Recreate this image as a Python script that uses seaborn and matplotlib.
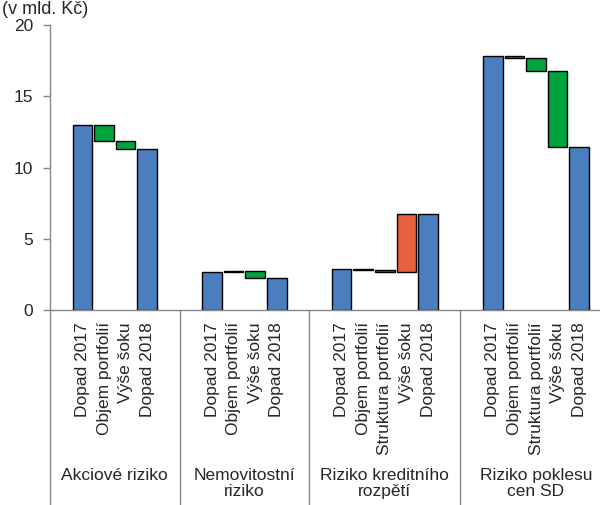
import matplotlib
matplotlib.use("Agg")
import matplotlib.pyplot as plt
import matplotlib.transforms as mtransforms
import numpy as np
import pandas as pd
import seaborn as sns

# --- data (bn CZK) -------------------------------------------------------
groups = ["Akciové riziko", "Nemovitostní\nriziko",
          "Riziko kreditního\nrozpětí", "Riziko poklesu\ncen SD"]

steps_equity = ["Dopad 2017", "Objem portfolií", "Výše šoku", "Dopad 2018"]
values_equity = [13.0, -1.15, -0.55, 11.3]

steps_property = ["Dopad 2017", "Objem portfolií", "Výše šoku", "Dopad 2018"]
values_property = [2.68, 0.08, -0.49, 2.27]

steps_credit = ["Dopad 2017", "Objem portfolií", "Struktura portfolií",
                "Výše šoku", "Dopad 2018"]
values_credit = [2.85, -0.02, -0.17, 4.08, 6.74]

steps_govbond = ["Dopad 2017", "Objem portfolií", "Struktura portfolií",
                 "Výše šoku", "Dopad 2018"]
values_govbond = [17.8, -0.15, -0.85, -5.35, 11.45]

BLUE = "#4A7EBF"
GREEN = "#00A33D"
ORANGE = "#E8603E"
AXIS_GREY = "#868686"
FS = 12.5

sns.set_style("white")
plt.rcParams["font.family"] = ["Liberation Sans", "DejaVu Sans"]

# --- build waterfall table: one empty slot on each side of every group ---
rows = []
group_spans = []
slot = 0
for g, steps, vals in zip(
        groups,
        [steps_equity, steps_property, steps_credit, steps_govbond],
        [values_equity, values_property, values_credit, values_govbond]):
    start = slot
    slot += 1  # leading empty slot
    level = 0.0
    last = len(vals) - 1
    for i, (s, v) in enumerate(zip(steps, vals)):
        if i == 0 or i == last:
            rows.append(dict(group=g, step=s, pos=slot, bottom=0.0,
                             height=v, kind="total"))
            level = v
        else:
            lo = min(level, level + v)
            rows.append(dict(group=g, step=s, pos=slot, bottom=lo,
                             height=abs(v),
                             kind="down" if v < 0 else "up"))
            level += v
        slot += 1
    slot += 1  # trailing empty slot
    group_spans.append((start - 0.5, slot - 0.5))

df = pd.DataFrame(rows)
totals = df[df["kind"] == "total"].copy()
deltas = df[df["kind"] != "total"]

fig = plt.figure(figsize=(6.0, 5.05), dpi=100)
ax = fig.add_axes([50 / 600, 1 - 310 / 505, 561.6 / 600, 285 / 505])

# start/end totals
native_gap = np.diff(np.sort(totals["pos"].unique())).min()
sns.barplot(data=totals, x="pos", y="height", native_scale=True,
            width=0.9 / native_gap, color=BLUE, saturation=1,
            edgecolor="black", linewidth=1.0, errorbar=None, ax=ax)

# floating contributions
for kind, col in [("down", GREEN), ("up", ORANGE)]:
    sub = deltas[deltas["kind"] == kind]
    ax.bar(sub["pos"], sub["height"], bottom=sub["bottom"], width=0.9,
           color=col, edgecolor="black", linewidth=1.0)

ax.set_xlim(-0.5, slot - 0.5)
ax.set_ylim(0, 20)
ax.set_yticks([0, 5, 10, 15, 20])
ax.set_xticks([])
ax.set_xlabel("")
ax.set_ylabel("")
ax.tick_params(axis="y", direction="out", length=5, width=1,
               color=AXIS_GREY, labelsize=FS, pad=7, left=True)
for side in ("top", "right"):
    ax.spines[side].set_visible(False)
for side in ("left", "bottom"):
    ax.spines[side].set_color(AXIS_GREY)
    ax.spines[side].set_linewidth(1.0)

trans = mtransforms.blended_transform_factory(ax.transData, ax.transAxes)

# rotated step labels under each bar
for _, r in df.iterrows():
    ax.text(r["pos"], -12 / 285, r["step"], transform=trans, rotation=90,
            ha="center", va="top", fontsize=FS)

# group separators and group names
for (x0, x1), g in zip(group_spans, groups):
    ax.plot([x0, x0], [0, -0.75], transform=trans, color=AXIS_GREY,
            lw=1.0, clip_on=False)
    ax.text((x0 + x1) / 2, -158 / 285, g, transform=trans, ha="center",
            va="top", fontsize=FS, linespacing=1.1)

# unit note in the top-left corner
fig.text(0.003, 1 - 14 / 505, "(v mld. Kč)", ha="left", va="baseline",
         fontsize=13)

fig.savefig("out.png", dpi=100)
